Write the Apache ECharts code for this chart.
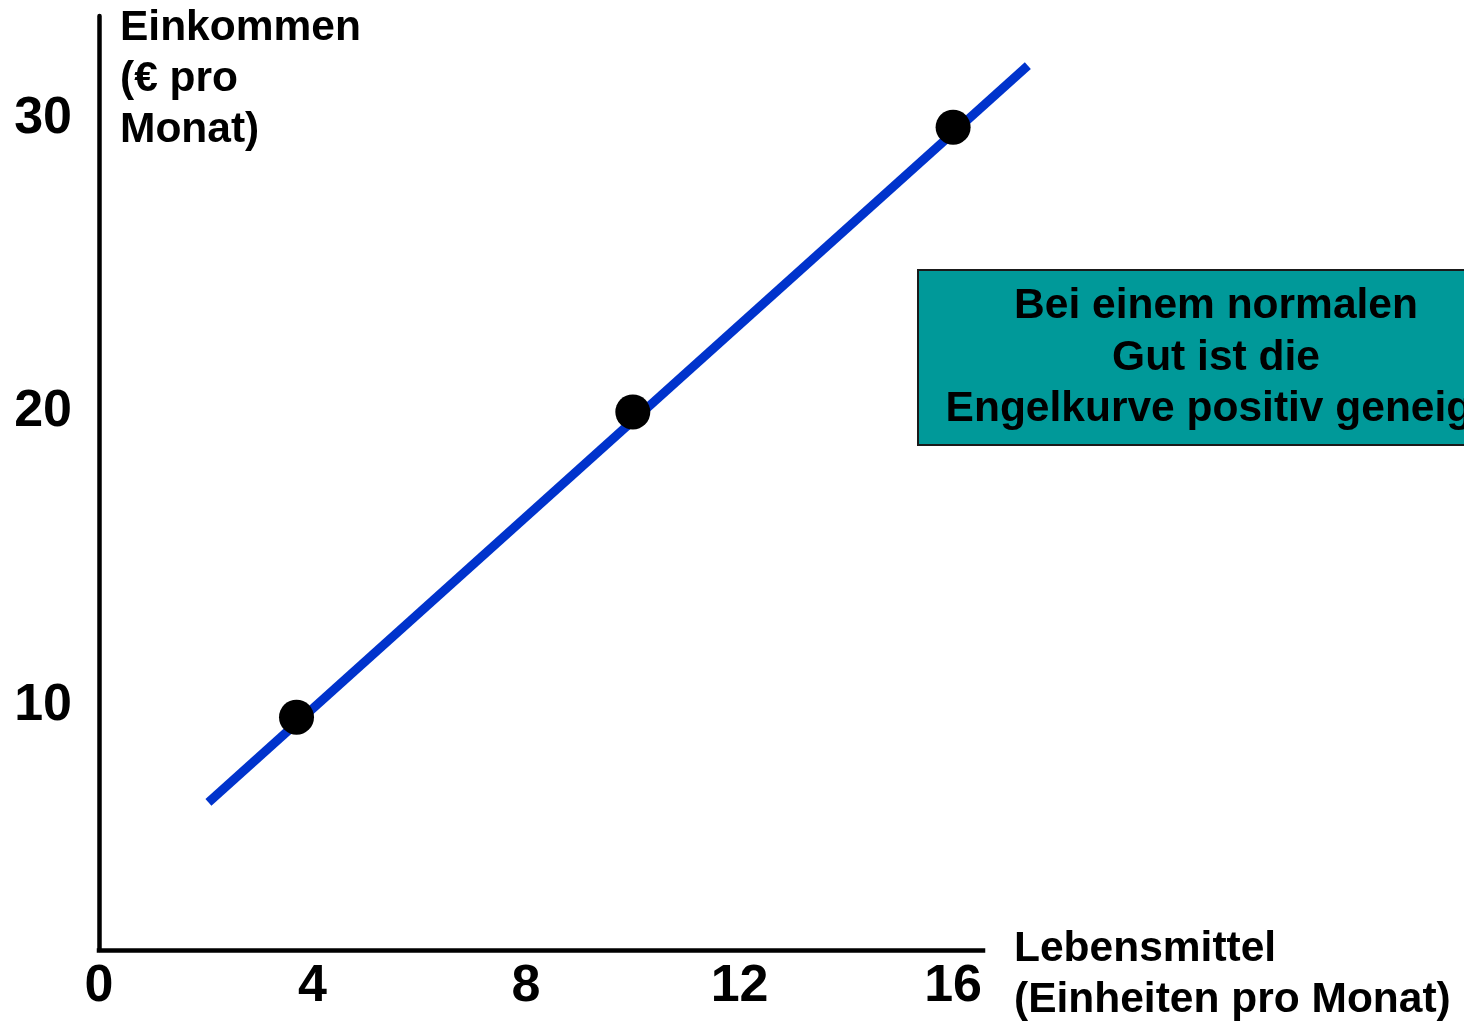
<!DOCTYPE html>
<html lang="de">
<head>
<meta charset="utf-8">
<title>Engelkurve – Lebensmittel</title>
<script src="https://cdn.jsdelivr.net/npm/echarts@6/dist/echarts.min.js"></script>
<style>
  html, body { margin: 0; padding: 0; background: #ffffff; }
  #chart { width: 1464px; height: 1022px; }
</style>
</head>
<body>
<div id="chart"></div>
<script>
// Tick labels on both axes
const xTicks = [0, 4, 8, 12, 16];
const yTicks = [10, 20, 30];

// Engel curve: food units per month vs. monthly income (€)
const curveFood = [2.05, 17.4];
const curveIncome = [6.7, 31.8];

// Marked consumption bundles on the curve
const pointFood = [3.7, 10.0, 16.0];
const pointIncome = [9.6, 20.0, 29.7];

// Axis titles and the note box
const xTitle = 'Lebensmittel\n(Einheiten pro Monat)';
const yTitle = 'Einkommen\n(€ pro\nMonat)';
const noteText = 'Bei einem normalen\nGut ist die\nEngelkurve positiv geneigt';

const FONT = '"Liberation Sans", Arial, Helvetica, sans-serif';

// Shared scale: the drawn axes stop at 16.56 units, while the curve runs a
// little past the end of the x axis. A second, invisible coordinate system
// with the same pixels-per-unit carries the curve so it is not cut off.
const PLOT_LEFT = 99, PLOT_TOP = 16, PLOT_BOTTOM = 72;
const AXIS_RIGHT = 481;           // visible x axis ends 481px from the right
const X_MAX = 16.56;
const pxPerUnit = (1464 - PLOT_LEFT - AXIS_RIGHT) / X_MAX;
const DATA_RIGHT = 420;
const X_MAX_DATA = (1464 - PLOT_LEFT - DATA_RIGHT) / pxPerUnit;
const Y_MIN = 1.67, Y_MAX = 33.49;

const curveData = curveFood.map((x, i) => [x, curveIncome[i]]);
const pointData = pointFood.map((x, i) => [x, pointIncome[i]]);

const labelFont = { fontFamily: FONT, fontSize: 52, fontWeight: 'bold', color: '#000' };
const titleFont = { fontFamily: FONT, fontSize: 42.5, fontWeight: 'bold', color: '#000' };

const chart = echarts.init(document.getElementById('chart'), null, { renderer: 'canvas' });

chart.setOption({
  animation: false,
  backgroundColor: '#ffffff',
  grid: [
    { left: PLOT_LEFT, right: AXIS_RIGHT, top: PLOT_TOP, bottom: PLOT_BOTTOM, containLabel: false },
    { left: PLOT_LEFT, right: DATA_RIGHT, top: PLOT_TOP, bottom: PLOT_BOTTOM, containLabel: false }
  ],
  xAxis: [
    {
      type: 'value',
      gridIndex: 0,
      min: 0,
      max: X_MAX,
      axisLine: { show: true, onZero: false, lineStyle: { color: '#000', width: 4.5, cap: 'square' } },
      axisTick: { show: false },
      splitLine: { show: false },
      axisLabel: Object.assign({ customValues: xTicks, margin: 37, verticalAlign: 'middle' }, labelFont)
    },
    {
      type: 'value',
      gridIndex: 1,
      min: 0,
      max: X_MAX_DATA,
      show: false
    }
  ],
  yAxis: [
    {
      type: 'value',
      gridIndex: 0,
      min: Y_MIN,
      max: Y_MAX,
      name: yTitle,
      nameLocation: 'end',
      nameGap: 13,
      nameTextStyle: Object.assign({
        align: 'left', verticalAlign: 'top', lineHeight: 51, padding: [0, 0, 0, 21]
      }, titleFont),
      axisLine: { show: true, onZero: false, lineStyle: { color: '#000', width: 4.5 } },
      axisTick: { show: false },
      splitLine: { show: false },
      axisLabel: Object.assign({ customValues: yTicks, margin: 27 }, labelFont)
    },
    {
      type: 'value',
      gridIndex: 1,
      min: Y_MIN,
      max: Y_MAX,
      show: false
    }
  ],
  series: [
    {
      name: 'Engelkurve',
      type: 'line',
      xAxisIndex: 1,
      yAxisIndex: 1,
      data: curveData,
      symbol: 'none',
      z: 2,
      lineStyle: { color: '#0033cc', width: 9, cap: 'butt' }
    },
    {
      name: 'Güterbündel',
      type: 'scatter',
      xAxisIndex: 1,
      yAxisIndex: 1,
      data: pointData,
      symbol: 'circle',
      symbolSize: 35,
      z: 3,
      itemStyle: { color: '#000000', opacity: 1 }
    }
  ],
  graphic: [
    {
      // x-axis title beside the end of the axis
      type: 'text',
      x: 1014,
      y: 924,
      style: {
        text: xTitle,
        font: 'bold 42.5px ' + FONT,
        fill: '#000000',
        align: 'left',
        verticalAlign: 'top',
        lineHeight: 51
      }
    },
    {
      type: 'group',
      x: 918,
      y: 270,
      z: 10,
      children: [
        {
          type: 'rect',
          shape: { x: 0, y: 0, width: 600, height: 175 },
          style: { fill: '#009999', stroke: '#1a1a1a', lineWidth: 2 }
        },
        {
          type: 'text',
          x: 298,
          y: 88,
          style: {
            text: noteText,
            font: 'bold 42.5px ' + FONT,
            fill: '#000000',
            align: 'center',
            verticalAlign: 'middle',
            lineHeight: 51.5
          }
        }
      ]
    }
  ]
});
</script>
</body>
</html>
